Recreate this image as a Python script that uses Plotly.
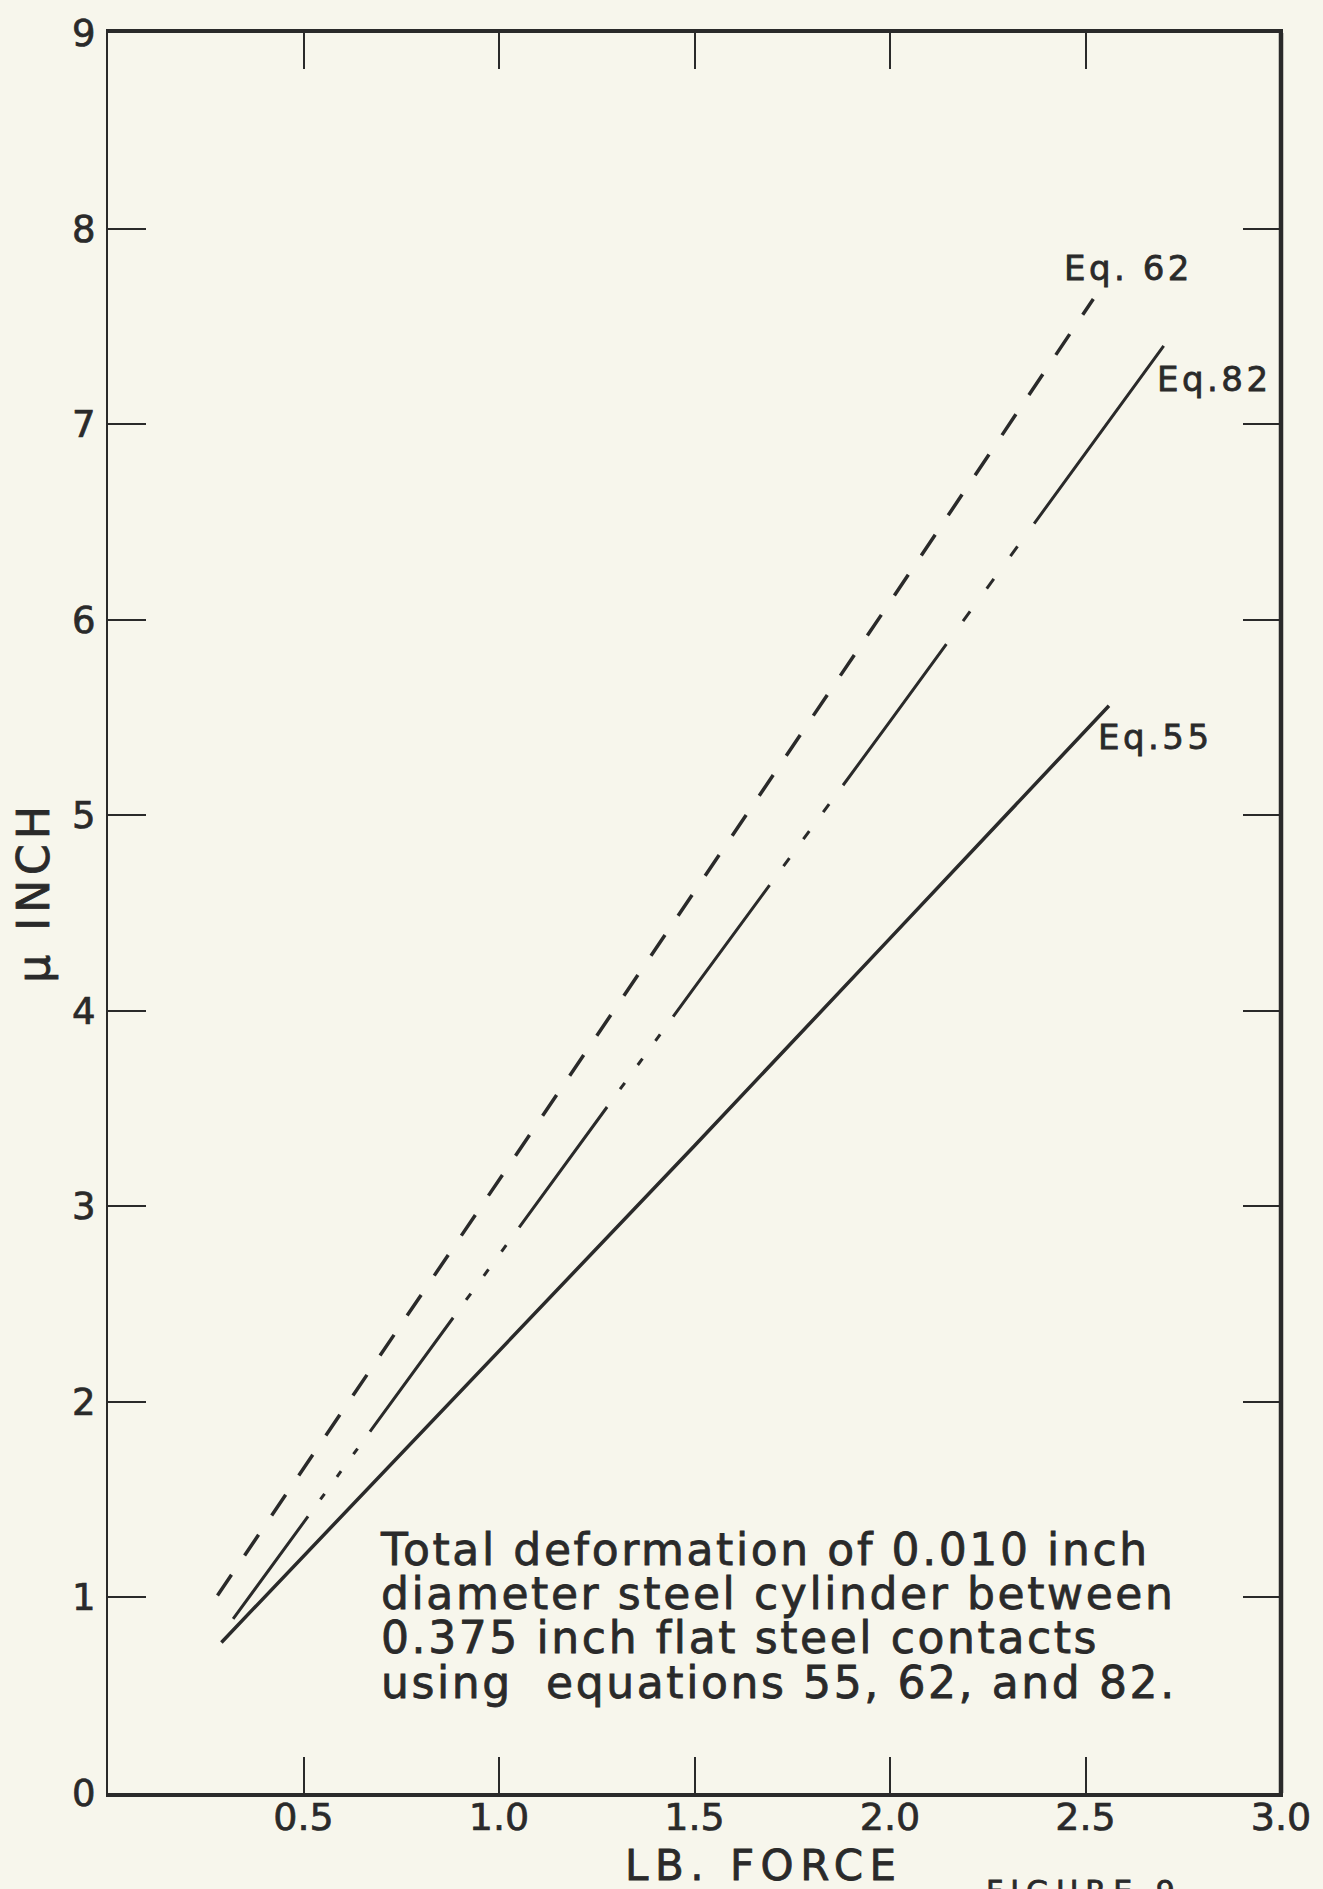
import plotly.graph_objects as go

# ---- data ----
eq62_x = [0.28, 1.0, 1.5, 2.0, 2.52]
eq62_y = [1.01, 3.13, 4.61, 6.09, 7.64]

eq82_x = [0.32, 1.0, 1.5, 2.0, 2.70]
eq82_y = [0.89, 2.75, 4.12, 5.48, 7.40]

eq55_x = [0.29, 1.0, 1.5, 2.0, 2.56]
eq55_y = [0.77, 2.26, 3.31, 4.37, 5.56]

x_ticks = [0.5, 1.0, 1.5, 2.0, 2.5, 3.0]
x_tick_labels = ["0.5", "1.0", "1.5", "2.0", "2.5", "3.0"]
y_ticks = [0, 1, 2, 3, 4, 5, 6, 7, 8, 9]
y_tick_labels = ["0", "1", "2", "3", "4", "5", "6", "7", "8", "9"]

labels = ["Eq. 62", "Eq.82", "Eq.55"]
label_x = [2.61, 2.83, 2.68]
label_y = [7.80, 7.23, 5.40]

note_lines = [
    "Total deformation of 0.010 inch",
    "diameter steel cylinder between",
    "0.375 inch flat steel contacts",
    "using  equations 55, 62, and 82.",
]

# ---- style ----
INK = "#2a2a2a"
BG = "#f7f6ec"
FONT = "DejaVu Sans"

W, H = 1323, 1889
ML, MR, MT, MB = 108, 40, 22, 96
PW, PH = W - ML - MR, H - MT - MB


def px_to_paper_x(px):
    return (px - ML) / PW


def px_to_paper_y(py):
    return (H - MB - py) / PH


def gap_dots(s, d):
    return [s, d, s, d, s, d, s]


dash82 = []
for solid, (s, d) in zip([127, 141, 149, 163, 175],
                         [(21, 7), (22, 8), (22, 8), (23.5, 10), (28.25, 12)]):
    dash82.append(solid)
    dash82.extend(gap_dots(s, d))
dash82.append(600)
dash82.append(10)
dash82_str = ",".join(f"{v}px" for v in dash82)


def styled(text, ls=0, sw=0.8, fs=None):
    extra = f";font-size:{fs}px" if fs else ""
    return (f'<span style="letter-spacing:{ls}px;stroke:{INK};stroke-width:{sw}px{extra}">'
            f'{text}</span>')


fig = go.Figure()
fig.add_trace(go.Scatter(x=eq62_x, y=eq62_y, mode="lines",
                         line=dict(color=INK, width=3.5, dash="25px,23.3px"),
                         hoverinfo="skip", showlegend=False))
fig.add_trace(go.Scatter(x=eq82_x, y=eq82_y, mode="lines",
                         line=dict(color=INK, width=3, dash=dash82_str),
                         hoverinfo="skip", showlegend=False))
fig.add_trace(go.Scatter(x=eq55_x, y=eq55_y, mode="lines",
                         line=dict(color=INK, width=3.5),
                         hoverinfo="skip", showlegend=False))

annotations = []
for t, lx, ly in zip(labels, label_x, label_y):
    annotations.append(dict(x=lx, y=ly, xref="x", yref="y", text=styled(t, 3.5),
                            showarrow=False, xanchor="center", yanchor="middle",
                            font=dict(family=FONT, size=34, color=INK)))

# one text block: line pitch from the base size (34 -> ~44px), glyphs enlarged via span
note_text = "<br>".join(styled(line, 2.6, 0.8, 44) for line in note_lines)
annotations.append(dict(x=px_to_paper_x(378), y=px_to_paper_y(1520), xref="paper", yref="paper",
                        text=note_text, showarrow=False, align="left",
                        xanchor="left", yanchor="top",
                        font=dict(family=FONT, size=34, color=INK)))

annotations.append(dict(x=px_to_paper_x(765), y=px_to_paper_y(1866), xref="paper", yref="paper",
                        text=styled("LB. FORCE", 6.5), showarrow=False,
                        xanchor="center", yanchor="middle",
                        font=dict(family=FONT, size=42, color=INK)))
annotations.append(dict(x=px_to_paper_x(34), y=px_to_paper_y(886), xref="paper", yref="paper",
                        text=styled("\u03bc INCH", 5), showarrow=False, textangle=-90,
                        xanchor="center", yanchor="middle",
                        font=dict(family=FONT, size=44, color=INK)))
annotations.append(dict(x=px_to_paper_x(985), y=px_to_paper_y(1872), xref="paper", yref="paper",
                        text=styled("FIGURE 9", 7), showarrow=False,
                        xanchor="left", yanchor="top",
                        font=dict(family=FONT, size=30, color=INK)))

# heavier right-hand frame edge, as in the reference
shapes = [dict(type="line", xref="paper", yref="paper", x0=1, x1=1, y0=0, y1=1,
               line=dict(color=INK, width=4.5))]

fig.update_layout(
    width=W, height=H,
    margin=dict(l=ML, r=MR, t=MT, b=MB, pad=0),
    paper_bgcolor=BG, plot_bgcolor=BG,
    showlegend=False,
    annotations=annotations,
    shapes=shapes,
    font=dict(family=FONT, color=INK),
)
fig.update_xaxes(range=[0, 3], tickvals=x_ticks,
                 ticktext=[styled(t, 0, 0.7) for t in x_tick_labels],
                 showgrid=False, zeroline=False, showline=True, linecolor=INK, linewidth=3.5,
                 mirror="allticks", ticks="inside", ticklen=36, tickwidth=2, tickcolor=INK,
                 ticklabelstandoff=-12,
                 tickfont=dict(family=FONT, size=38, color=INK))
fig.update_yaxes(range=[0, 9], tickvals=y_ticks,
                 ticktext=[styled(t, 0, 0.7) for t in y_tick_labels],
                 showgrid=False, zeroline=False, showline=True, linecolor=INK, linewidth=2.2,
                 mirror="allticks", ticks="inside", ticklen=38, tickwidth=2, tickcolor=INK,
                 ticklabelstandoff=3,
                 tickfont=dict(family=FONT, size=37, color=INK))

fig.write_html("out.html")
